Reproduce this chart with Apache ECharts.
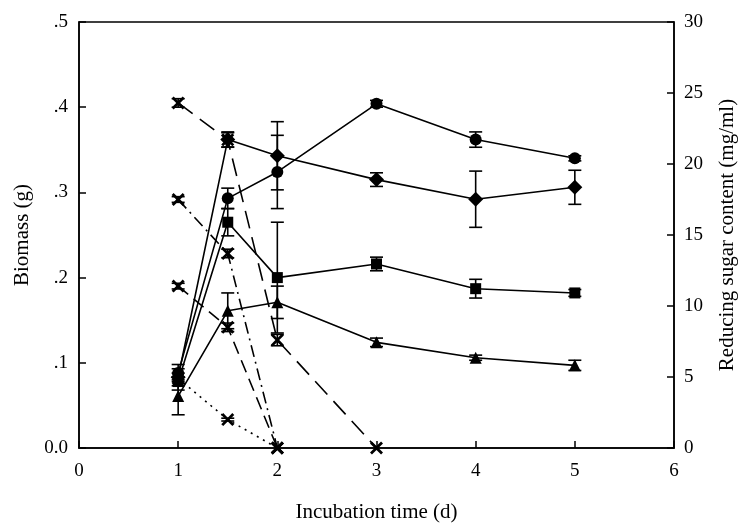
<!DOCTYPE html>
<html>
<head>
<meta charset="utf-8">
<script src="https://cdn.jsdelivr.net/npm/echarts@6/dist/echarts.min.js"></script>
<style>html,body{margin:0;padding:0;background:#fff}#c{width:748px;height:527px}</style>
</head>
<body>
<div id="c"></div>
<script>
// ---- data ----
const days = [1, 1.5, 2, 3, 4, 5];
const xTicks = [0, 1, 2, 3, 4, 5, 6];
const leftTicks = ['0.0', '.1', '.2', '.3', '.4', '.5'];
const rightTicks = ['0', '5', '10', '15', '20', '25', '30'];

// Biomass (g), solid lines
const circleVals = [0.088, 0.293, 0.324, 0.404, 0.362, 0.340];
const circleErr  = [0.010, 0.012, 0.043, 0.004, 0.009, 0.003];
const diamondVals = [0.083, 0.362, 0.343, 0.315, 0.292, 0.306];
const diamondErr  = [0.010, 0.009, 0.040, 0.008, 0.033, 0.020];
const squareVals = [0.078, 0.265, 0.200, 0.216, 0.187, 0.182];
const squareErr  = [0.010, 0.016, 0.065, 0.008, 0.011, 0.004];
const triangleVals = [0.061, 0.161, 0.171, 0.124, 0.106, 0.097];
const triangleErr  = [0.022, 0.021, 0.019, 0.005, 0.003, 0.006];

// Reducing sugar (mg/ml), dashed lines with x markers
const sugarDaysA = [1, 1.5, 2, 3];
const sugarA = [24.3, 21.7, 7.6, 0];
const sugarAErr = [0.3, 0.5, 0.4, 0];
const sugarDaysB = [1, 1.5, 2];
const sugarB = [17.5, 13.7, 0];
const sugarBErr = [0.2, 0.3, 0];
const sugarC = [11.4, 8.5, 0];
const sugarCErr = [0.2, 0.3, 0];
const sugarD = [4.9, 2.0, 0];
const sugarDErr = [0.1, 0.1, 0];

const FONT = 'Liberation Serif';
const xSym = 'path://M1.5,0 L5,3.5 L8.5,0 L10,1.5 L6.5,5 L10,8.5 L8.5,10 L5,6.5 L1.5,10 L0,8.5 L3.5,5 L0,1.5 Z';

function pairs(xs, ys) { return xs.map((x, i) => [x, ys[i]]); }
function errData(xs, ys, es) { return xs.map((x, i) => [x, ys[i] - es[i], ys[i] + es[i]]); }

function errSeries(xs, ys, es, yIdx) {
  return {
    type: 'custom', yAxisIndex: yIdx, z: 3, silent: true,
    data: errData(xs, ys, es),
    renderItem: function (params, api) {
      const x = api.value(0), lo = api.value(1), hi = api.value(2);
      if (hi - lo <= 0) return null;
      const p1 = api.coord([x, hi]), p2 = api.coord([x, lo]);
      const w = 6.5;
      const st = { stroke: '#000', lineWidth: 1.6 };
      return { type: 'group', children: [
        { type: 'line', shape: { x1: p1[0], y1: p1[1], x2: p2[0], y2: p2[1] }, style: st },
        { type: 'line', shape: { x1: p1[0] - w, y1: p1[1], x2: p1[0] + w, y2: p1[1] }, style: st },
        { type: 'line', shape: { x1: p2[0] - w, y1: p2[1], x2: p2[0] + w, y2: p2[1] }, style: st }
      ]};
    }
  };
}

function lineSeries(name, xs, ys, symbol, size, yIdx, lineType) {
  return {
    name: name, type: 'line', yAxisIndex: yIdx, data: pairs(xs, ys),
    symbol: symbol, symbolSize: size, z: 4,
    itemStyle: { color: '#000' },
    lineStyle: { color: '#000', width: 1.6, type: lineType || 'solid' },
    emphasis: { disabled: true }
  };
}

const chart = echarts.init(document.getElementById('c'), null, { renderer: 'canvas' });
chart.setOption({
  animation: false,
  backgroundColor: '#fff',
  grid: { left: 79, right: 74, top: 22, bottom: 79, show: true, borderColor: '#000', borderWidth: 1.5,
          containLabel: false, outerBoundsMode: 'none' },
  xAxis: {
    type: 'value', min: 0, max: 6, interval: 1,
    name: 'Incubation time (d)', nameLocation: 'middle', nameGap: 54,
    nameTextStyle: { fontFamily: FONT, fontSize: 21, color: '#000' },
    axisLine: { lineStyle: { color: '#000', width: 1.5 } },
    axisTick: { inside: true, length: 7, lineStyle: { color: '#000', width: 1.5 } },
    axisLabel: { fontFamily: FONT, fontSize: 19, color: '#000', margin: 14,
      formatter: v => String(xTicks[Math.round(v)]) },
    splitLine: { show: false }
  },
  yAxis: [
    {
      type: 'value', min: 0, max: 0.5, interval: 0.1, position: 'left',
      name: 'Biomass (g)', nameLocation: 'middle', nameGap: 45,
      nameTextStyle: { fontFamily: FONT, fontSize: 21, color: '#000' },
      axisLine: { show: true, lineStyle: { color: '#000', width: 1.5 } },
      axisTick: { show: true, inside: true, length: 7, lineStyle: { color: '#000', width: 1.5 } },
      axisLabel: { fontFamily: FONT, fontSize: 19, color: '#000', margin: 11,
        formatter: v => leftTicks[Math.round(v * 10)] },
      splitLine: { show: false }
    },
    {
      type: 'value', min: 0, max: 30, interval: 5, position: 'right',
      name: 'Reducing sugar content (mg/ml)', nameLocation: 'middle', nameGap: 43,
      nameRotate: 90,
      nameTextStyle: { fontFamily: FONT, fontSize: 21, color: '#000' },
      axisLine: { show: true, lineStyle: { color: '#000', width: 1.5 } },
      axisTick: { show: true, inside: true, length: 7, lineStyle: { color: '#000', width: 1.5 } },
      axisLabel: { fontFamily: FONT, fontSize: 19, color: '#000', margin: 10,
        formatter: v => rightTicks[Math.round(v / 5)] },
      splitLine: { show: false }
    }
  ],
  series: [
    lineSeries('circle', days, circleVals, 'circle', 12, 0),
    errSeries(days, circleVals, circleErr, 0),
    lineSeries('diamond', days, diamondVals, 'diamond', 15, 0),
    errSeries(days, diamondVals, diamondErr, 0),
    lineSeries('square', days, squareVals, 'rect', 11, 0),
    errSeries(days, squareVals, squareErr, 0),
    lineSeries('triangle', days, triangleVals, 'triangle', 12, 0),
    errSeries(days, triangleVals, triangleErr, 0),

    lineSeries('sugarA', sugarDaysA, sugarA, xSym, 13, 1, [18, 9]),
    errSeries(sugarDaysA, sugarA, sugarAErr, 1),
    lineSeries('sugarB', sugarDaysB, sugarB, xSym, 13, 1, [12, 5, 2, 5]),
    errSeries(sugarDaysB, sugarB, sugarBErr, 1),
    lineSeries('sugarC', sugarDaysB, sugarC, xSym, 13, 1, [13, 7]),
    errSeries(sugarDaysB, sugarC, sugarCErr, 1),
    lineSeries('sugarD', sugarDaysB, sugarD, xSym, 13, 1, [2, 5]),
    errSeries(sugarDaysB, sugarD, sugarDErr, 1)
  ]
});
</script>
</body>
</html>
